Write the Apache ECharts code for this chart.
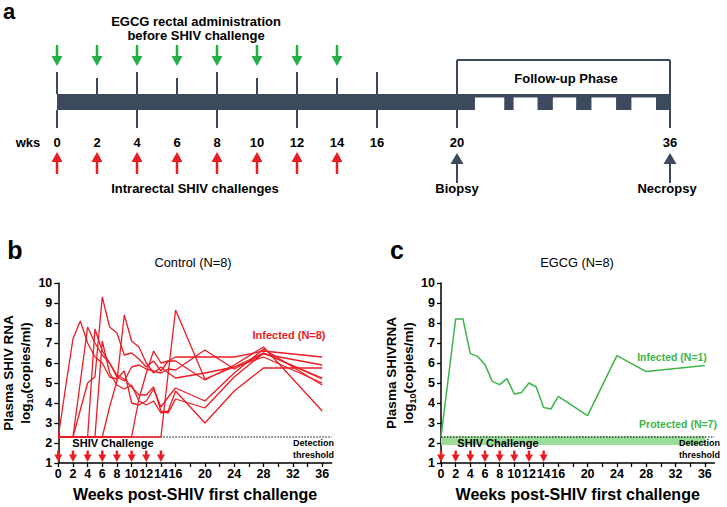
<!DOCTYPE html>
<html><head><meta charset="utf-8">
<script src="https://cdn.jsdelivr.net/npm/echarts@6/dist/echarts.min.js"></script>
<style>html,body{margin:0;padding:0;background:#fff}#c{width:727px;height:507px}</style>
</head><body><div id="c"></div><script>
// ---------------- DATA ----------------
const ctrlWeeks = [0,1,2,3,4,5,6,7,8,9,10,11,12,13,14,15,16,20,24,28,36];
const ctrlA = [2.3,4.8,7.2,8.1,7.0,6.3,6.0,5.3,5.2,5.6,4.0,3.9,4.1,4.7,3.8,4.3,4.75,4.1,5.5,6.7,4.9];
const ctrlB = [2.3,2.3,2.3,5.05,7.8,7.0,6.4,6.0,5.3,5.1,5.8,5.9,5.7,5.6,5.5,5.7,5.65,6.65,5.7,6.45,5.9];
const ctrlC = [2.3,2.3,2.3,3.65,5.0,5.3,9.3,7.8,7.5,6.4,6.5,6.2,5.8,6.1,5.6,6.1,6.3,6.3,6.3,6.6,6.3];
const ctrlD = [2.3,2.3,2.3,2.3,2.3,7.7,6.6,6.0,5.4,5.2,4.8,4.4,4.4,4.8,3.6,3.5,4.2,3.75,5.3,6.5,5.25];
const ctrlE = [2.3,2.3,2.3,2.3,2.3,2.3,7.1,5.5,4.9,4.7,4.9,4.1,3.9,4.1,3.5,3.6,4.6,3.0,4.6,5.75,5.75];
const ctrlF = [2.3,2.3,2.3,2.3,2.3,2.3,2.3,3.8,5.1,8.4,7.1,6.8,6.0,5.5,5.8,5.5,5.25,5.5,5.8,6.3,5.0];
const ctrlG = [2.3,2.3,2.3,2.3,2.3,2.3,2.3,2.3,2.3,2.3,2.3,4.2,5.5,6.6,6.0,6.1,6.1,5.15,5.9,6.8,3.6];
const ctrlH = [2.3,2.3,2.3,2.3,2.3,2.3,2.3,2.3,2.3,2.3,2.3,2.3,2.3,2.3,2.3,5.5,8.65,5.2,5.8,6.5,5.2];
const controlSeries = [ctrlA, ctrlB, ctrlC, ctrlD, ctrlE, ctrlF, ctrlG, ctrlH];

const egcgWeeks = [0,2,3,4,5,6,7,8,9,10,11,12,13,14,15,16,20,24,28,36];
const egcgInfected = [2.3,8.2,8.2,6.47,6.33,5.92,5.08,4.92,5.22,4.45,4.53,5.0,4.8,3.78,3.7,4.33,3.37,6.37,5.57,5.88];
const protectedLevels = [2.26,2.21,2.16,2.11,2.06,2.01,1.97];
const protectedSpan = [0, 36];

const detectionThreshold = 2.3;
const thresholdSpan = [0, 37.3];
const challengeWeeks = [0,2,4,6,8,10,12,14];
const xTickWeeks = [0,2,4,6,8,10,12,14,16,18,20,22,24,26,28,30,32,34,36];
const xLabelWeeks = [0,2,4,6,8,10,12,14,16,20,24,28,32,36];

// schedule (panel a)
const egcgDoseWeeks = [0,2,4,6,8,10,12,14];
const scheduleLongTicks = [0,4,8,12,16];
const scheduleShortTicks = [2,6,10,14];
const scheduleBelowTicks = [0,4,8,12,16];
const scheduleLabelWeeks = [0,2,4,6,8,10,12,14,16];
const followLabelWeeks = [20,36];
const sampleWeeks = [20,36];
const followStart = 20, followEnd = 36;
const solidPhase = [0, 21.35];
const followBlocks = [[23.55,24.25],[26.05,27.2],[28.95,30.1],[31.95,33.1],[34.95,36]];

// ---------------- STYLE ----------------
const F = '"Liberation Sans", Arial, Helvetica, sans-serif';
const RED = '#ec1c24', GREEN = '#3db54a', SLATE = '#3d4a5e', LIGHTGREEN = '#9bdc9b';
const L = {boxTop:60, longTop:72, shortTop:78, barTop:94, strip:97.5, barBot:110, belowBot:128,
  labelY:142, gTail:45, gTip:66, rTail:174, rTip:152, kTail:183, kTip:153};

// ---------------- HELPERS ----------------
function rectSeries(xi, yi, spans, color){
  return {type:'custom', xAxisIndex:xi, yAxisIndex:yi, silent:true, data:spans, z:2,
    renderItem(p, api){
      const a = api.coord([api.value(0), api.value(2)]);
      const b = api.coord([api.value(1), api.value(3)]);
      return {type:'rect', shape:{x:a[0], y:a[1], width:b[0]-a[0], height:b[1]-a[1]}, style:{fill:color}};
    }};
}
function segSeries(xi, yi, segs, color, w){
  return {type:'custom', xAxisIndex:xi, yAxisIndex:yi, silent:true, data:segs, z:3,
    renderItem(p, api){
      const a = api.coord([api.value(0), api.value(1)]);
      const b = api.coord([api.value(2), api.value(3)]);
      return {type:'line', shape:{x1:a[0], y1:a[1], x2:b[0], y2:b[1]}, style:{stroke:color, lineWidth:w}};
    }};
}
function arrowSeries(xi, yi, weeks, yTail, yTip, color, shaft, headW, headL){
  return {type:'custom', xAxisIndex:xi, yAxisIndex:yi, silent:true, z:5,
    data: weeks.map(w => [w, yTail]),
    renderItem(p, api){
      const w = api.value(0);
      const a = api.coord([w, yTail]), b = api.coord([w, yTip]);
      const dir = b[1] > a[1] ? 1 : -1;
      const baseY = b[1] - dir*headL;
      return {type:'group', children:[
        {type:'line', shape:{x1:a[0], y1:a[1], x2:a[0], y2:baseY + dir*1}, style:{stroke:color, lineWidth:shaft}},
        {type:'polygon', shape:{points:[[b[0], b[1]], [b[0]-headW/2, baseY], [b[0]+headW/2, baseY]]}, style:{fill:color}}
      ]};
    }};
}
function textSeries(xi, yi, weeks, y, size){
  return {type:'custom', xAxisIndex:xi, yAxisIndex:yi, silent:true, z:5,
    data: weeks.map(w => [w, y]),
    renderItem(p, api){
      const c = api.coord([api.value(0), y]);
      return {type:'text', x:c[0], y:c[1], style:{text:String(api.value(0)), fontFamily:F, fontWeight:'bold',
        fontSize:size, fill:'#000', align:'center', verticalAlign:'middle', textAlign:'center', textVerticalAlign:'middle'}};
    }};
}
function txt(x, y, text, opt){
  const s = Object.assign({text, fontFamily:F, fontSize:13, fontWeight:'bold', fill:'#000'}, opt || {});
  const al = s.align || 'center';
  s.align = al; s.textAlign = al; s.verticalAlign = 'middle'; s.textVerticalAlign = 'middle';
  return {type:'text', x, y, style:s, silent:true, z:10};
}
function dataXAxis(gi){
  return {type:'value', gridIndex:gi, min:0, max:37.3,
    axisLine:{show:true, onZero:false, lineStyle:{color:'#000', width:1.5}},
    axisTick:{show:true, customValues:xTickWeeks, length:4, lineStyle:{color:'#000', width:1.3}},
    axisLabel:{customValues:xLabelWeeks, hideOverlap:false, fontFamily:F, fontWeight:'bold', fontSize:12.5, color:'#000', margin:4},
    splitLine:{show:false},
    name:'Weeks post-SHIV first challenge', nameLocation:'middle', nameGap:23,
    nameTextStyle:{fontFamily:F, fontWeight:'bold', fontSize:16, color:'#000'}};
}
function dataYAxis(gi, title){
  const rich = {t:{fontFamily:F, fontWeight:'bold', fontSize:13.5, color:'#000', lineHeight:17},
                s:{fontFamily:F, fontWeight:'bold', fontSize:9, color:'#000', lineHeight:9, verticalAlign:'bottom'}};
  return {type:'value', gridIndex:gi, min:1, max:10, interval:1,
    axisLine:{show:true, onZero:false, lineStyle:{color:'#000', width:1.5}},
    axisTick:{show:true, length:4, lineStyle:{color:'#000', width:1.3}},
    axisLabel:{fontFamily:F, fontWeight:'bold', fontSize:12.5, color:'#000', margin:6},
    splitLine:{show:false},
    name:'{t|' + title + '}\n{t|log}{s|10}{t|(copies/ml)}', nameLocation:'middle', nameGap:19,
    nameTextStyle:{fontFamily:F, fontWeight:'bold', fontSize:13.5, color:'#000', lineHeight:17, rich}};
}
function hiddenAxis(gi, min, max, inverse){
  return {type:'value', gridIndex:gi, min, max, inverse:!!inverse, show:false,
    axisLine:{show:false}, axisTick:{show:false}, axisLabel:{show:false}, splitLine:{show:false}};
}

// ---------------- SERIES ----------------
const series = [];
// panel b
series.push({type:'line', xAxisIndex:0, yAxisIndex:0, data:thresholdSpan.map(w=>[w, detectionThreshold]),
  symbol:'none', silent:true, z:1, lineStyle:{color:'#000', width:1, type:[1.5,1.5]}});
controlSeries.forEach(v => series.push({type:'line', xAxisIndex:0, yAxisIndex:0, symbol:'none', silent:true, z:2,
  data: ctrlWeeks.map((w,i)=>[w, v[i]]), lineStyle:{color:RED, width:1.3}}));
series.push(arrowSeries(0, 0, challengeWeeks, 1.62, 1.05, RED, 2.5, 8, 7.5));
// panel c
protectedLevels.forEach(v => series.push({type:'line', xAxisIndex:1, yAxisIndex:1, symbol:'none', silent:true, z:1,
  data: protectedSpan.map(w=>[w, v]), lineStyle:{color:LIGHTGREEN, width:3}}));
series.push({type:'line', xAxisIndex:1, yAxisIndex:1, data:thresholdSpan.map(w=>[w, detectionThreshold]),
  symbol:'none', silent:true, z:3, lineStyle:{color:'#000', width:1, type:[1.5,1.5]}});
series.push({type:'line', xAxisIndex:1, yAxisIndex:1, symbol:'none', silent:true, z:2,
  data: egcgWeeks.map((w,i)=>[w, egcgInfected[i]]), lineStyle:{color:GREEN, width:1.5}});
series.push(arrowSeries(1, 1, challengeWeeks, 1.62, 1.05, RED, 2.5, 8, 7.5));
// panel a, part 1 (weeks 0-20)
series.push(rectSeries(2, 2, [[solidPhase[0], followStart, L.barTop, L.barBot]], SLATE));
series.push(segSeries(2, 2, scheduleLongTicks.map(w=>[w, L.longTop, w, L.barTop]), SLATE, 2));
series.push(segSeries(2, 2, scheduleShortTicks.map(w=>[w, L.shortTop, w, L.barTop]), SLATE, 2));
series.push(segSeries(2, 2, scheduleBelowTicks.map(w=>[w, L.barBot, w, L.belowBot]), SLATE, 2));
series.push(arrowSeries(2, 2, egcgDoseWeeks, L.gTail, L.gTip, '#22b04b', 2.5, 11, 10));
series.push(arrowSeries(2, 2, challengeWeeks, L.rTail, L.rTip, RED, 2.5, 11, 10));
series.push(textSeries(2, 2, scheduleLabelWeeks, L.labelY, 13));
// panel a, part 2 (weeks 20-36)
series.push(rectSeries(3, 3, [[followStart, solidPhase[1], L.barTop, L.barBot], [followStart, followEnd, L.barTop, L.strip]]
  .concat(followBlocks.map(b=>[b[0], b[1], L.barTop, L.barBot])), SLATE));
series.push(segSeries(3, 3, [[followStart, L.boxTop, followEnd, L.boxTop], [followStart, L.boxTop, followStart, L.belowBot],
  [followEnd, L.boxTop, followEnd, L.belowBot]], SLATE, 2));
series.push(arrowSeries(3, 3, sampleWeeks, L.kTail, L.kTip, SLATE, 2, 13, 11));
series.push(textSeries(3, 3, followLabelWeeks, L.labelY, 13));

const option = {
  animation:false,
  backgroundColor:'#fff',
  grid:[
    {left:58.3, top:283, width:273.4, height:180, containLabel:false, outerBoundsMode:'none'},
    {left:441, top:283, width:273.4, height:180, containLabel:false, outerBoundsMode:'none'},
    {left:57, top:0, width:400, height:200, containLabel:false, outerBoundsMode:'none'},
    {left:457, top:0, width:213, height:200, containLabel:false, outerBoundsMode:'none'}
  ],
  xAxis:[dataXAxis(0), dataXAxis(1), hiddenAxis(2, 0, 20), hiddenAxis(3, 20, 36)],
  yAxis:[dataYAxis(0, 'Plasma SHIV RNA'), dataYAxis(1, 'Plasma SHIVRNA'), hiddenAxis(2, 0, 200, true), hiddenAxis(3, 0, 200, true)],
  series,
  graphic:[
    txt(9, 11, 'a', {fontSize:22}),
    txt(196, 21, 'EGCG rectal administration'),
    txt(196, 35, 'before SHIV challenge'),
    txt(566, 78, 'Follow-up Phase'),
    txt(28, 142, 'wks'),
    txt(195, 188, 'Intrarectal SHIV challenges'),
    txt(457, 188, 'Biopsy'),
    txt(667, 188, 'Necropsy'),
    txt(15, 249.6, 'b', {fontSize:25}),
    txt(397, 249.6, 'c', {fontSize:25}),
    txt(193, 262, 'Control (N=8)', {fontWeight:'normal', fontSize:12.8}),
    txt(577, 262, 'EGCG (N=8)', {fontWeight:'normal', fontSize:12.8}),
    txt(289, 335, 'Infected (N=8)', {fill:RED, fontSize:11}),
    txt(113, 443, 'SHIV Challenge', {fontSize:11}),
    txt(498, 443, 'SHIV Challenge', {fontSize:11}),
    txt(334, 443, 'Detection', {fontSize:9, align:'right'}),
    txt(334, 455, 'threshold', {fontSize:9, align:'right'}),
    txt(720, 443, 'Detection', {fontSize:9, align:'right'}),
    txt(720, 455, 'threshold', {fontSize:9, align:'right'}),
    txt(672, 357, 'Infected (N=1)', {fill:GREEN, fontSize:10.5}),
    txt(678, 424, 'Protected (N=7)', {fill:GREEN, fontSize:10.5})
  ]
};
const chart = echarts.init(document.getElementById('c'), null, {renderer:'svg', width:727, height:507});
chart.setOption(option);
</script></body></html>
